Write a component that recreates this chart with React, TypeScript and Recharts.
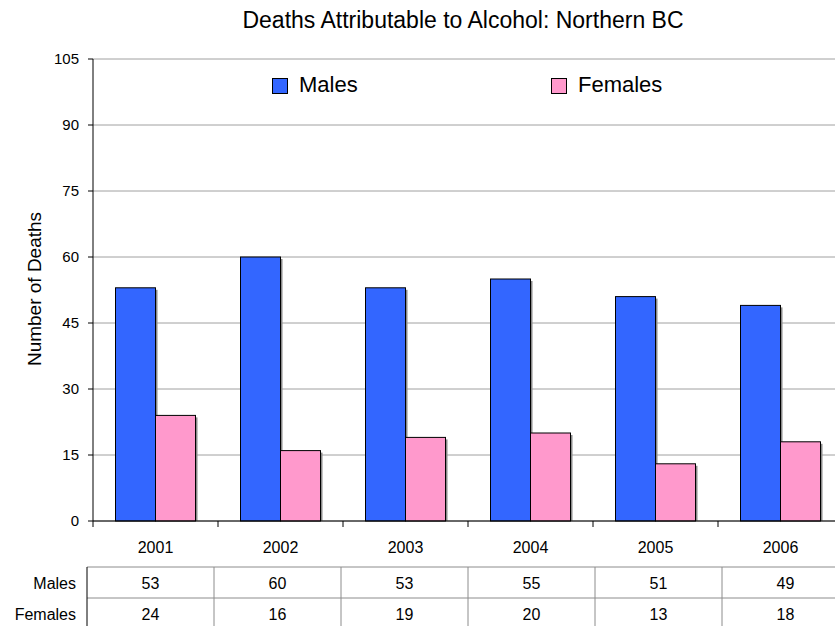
import { BarChart, Bar, XAxis, YAxis, CartesianGrid } from "recharts";

const years = ["2001", "2002", "2003", "2004", "2005", "2006"];
const males = [53, 60, 53, 55, 51, 49];
const females = [24, 16, 19, 20, 13, 18];
const yTicks = [0, 15, 30, 45, 60, 75, 90, 105];

const data = years.map((year, i) => ({ year, Males: males[i], Females: females[i] }));

const FONT = '"Liberation Sans", Arial, sans-serif';
const MALE_COLOR = "#3366FF";
const FEMALE_COLOR = "#FF99CC";

const series = [
  { key: "Males", color: MALE_COLOR, values: males, legendX: 272 },
  { key: "Females", color: FEMALE_COLOR, values: females, legendX: 551 },
];

// table under the chart
const TABLE_LEFT = 87;
const TABLE_COL = 127;
const TABLE_TOP = 567;
const TABLE_ROW = 31;

function ShadowBar(props: any) {
  const { x, y, width, height, fill } = props;
  if (!height || height <= 0) return null;
  return (
    <g>
      <rect x={x + 2} y={y + 2} width={width} height={height - 2} fill="#8a8a8a" />
      <rect x={x} y={y} width={width} height={height} fill={fill} stroke="#000" strokeWidth={1} />
    </g>
  );
}

function YearTick(props: any) {
  const { x, y, payload, index, width, visibleTicksCount } = props;
  const band = width && visibleTicksCount ? width / visibleTicksCount : 125;
  const left = x - band / 2;
  return (
    <g>
      <line x1={left} y1={y} x2={left} y2={y + 6} stroke="#000" />
      {index === years.length - 1 && (
        <line x1={x + band / 2} y1={y} x2={x + band / 2} y2={y + 6} stroke="#000" />
      )}
      <text x={x} y={y + 32} textAnchor="middle" fontSize={16} fill="#000" fontFamily={FONT}>
        {payload.value}
      </text>
    </g>
  );
}

export default function App() {
  return (
    <div
      style={{
        position: "absolute",
        left: 0,
        top: 0,
        width: 835,
        height: 626,
        overflow: "hidden",
        background: "#fff",
        fontFamily: FONT,
      }}
    >
      <BarChart
        width={843}
        height={560}
        data={data}
        margin={{ top: 59, right: 0, left: 0, bottom: 0 }}
        barCategoryGap="18%"
        barGap={0}
      >
        <CartesianGrid vertical={false} stroke="#a0a0a0" />
        <XAxis
          dataKey="year"
          height={39}
          axisLine={{ stroke: "#000" }}
          tickLine={false}
          tickSize={0}
          tickMargin={0}
          tick={<YearTick />}
          interval={0}
        />
        <YAxis
          width={93}
          domain={[0, 105]}
          ticks={yTicks}
          interval={0}
          axisLine={{ stroke: "#000" }}
          tickLine={{ stroke: "#000" }}
          tickSize={5}
          tickMargin={9}
          tick={{ fontSize: 15, fill: "#000", fontFamily: FONT }}
        />
        {series.map((s) => (
          <Bar key={s.key} dataKey={s.key} fill={s.color} shape={<ShadowBar />} isAnimationActive={false} />
        ))}
      </BarChart>

      <svg
        width={835}
        height={626}
        style={{ position: "absolute", left: 0, top: 0, pointerEvents: "none" }}
        fontFamily={FONT}
      >
        <text x={463} y={28} textAnchor="middle" fontSize={23} fill="#000">
          Deaths Attributable to Alcohol: Northern BC
        </text>
        <text
          x={41}
          y={289}
          transform="rotate(-90 41 289)"
          textAnchor="middle"
          fontSize={19}
          fill="#000"
        >
          Number of Deaths
        </text>

        {series.map((s) => (
          <g key={s.key}>
            <rect x={s.legendX + 0.5} y={78.5} width={15} height={15} fill={s.color} stroke="#000" />
            <text x={s.legendX + 27} y={92} fontSize={22} fill="#000">
              {s.key}
            </text>
          </g>
        ))}

        <line x1={TABLE_LEFT} y1={TABLE_TOP} x2={835} y2={TABLE_TOP} stroke="#8c8c8c" />
        <line x1={TABLE_LEFT} y1={TABLE_TOP + TABLE_ROW} x2={835} y2={TABLE_TOP + TABLE_ROW} stroke="#8c8c8c" />
        <line x1={TABLE_LEFT} y1={TABLE_TOP} x2={TABLE_LEFT} y2={626} stroke="#000" />
        {years.slice(1).map((y, i) => (
          <line
            key={y}
            x1={TABLE_LEFT + TABLE_COL * (i + 1)}
            y1={TABLE_TOP}
            x2={TABLE_LEFT + TABLE_COL * (i + 1)}
            y2={626}
            stroke="#8c8c8c"
          />
        ))}
        {series.map((s, r) => (
          <g key={s.key}>
            <text x={76} y={589 + r * TABLE_ROW} textAnchor="end" fontSize={16} fill="#000">
              {s.key}
            </text>
            {s.values.map((v, i) => (
              <text
                key={i}
                x={TABLE_LEFT + TABLE_COL * i + TABLE_COL / 2}
                y={589 + r * TABLE_ROW}
                textAnchor="middle"
                fontSize={16}
                fill="#000"
              >
                {v}
              </text>
            ))}
          </g>
        ))}
      </svg>
    </div>
  );
}
